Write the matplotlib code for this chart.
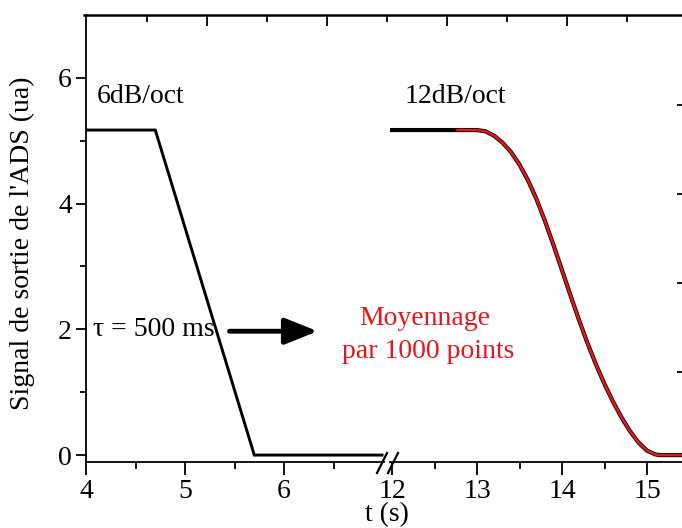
import matplotlib
matplotlib.use("Agg")
import matplotlib.pyplot as plt
from matplotlib.lines import Line2D
import numpy as np

# 6 dB/oct record (left segment)
t_6db = [4.0, 4.70, 5.70, 6.99]
s_6db = [5.17, 5.17, 0.0, 0.0]

# 12 dB/oct record (right segment)
t_12db = [12.0, 12.5, 12.77, 13.0, 13.1, 13.2, 13.3, 13.4, 13.5, 13.6, 13.7, 13.8,
          13.9, 14.0, 14.1, 14.2, 14.3, 14.4, 14.5, 14.6, 14.7, 14.8, 14.9,
          15.0, 15.1, 15.15, 15.5, 16.2]
s_12db = [5.17, 5.17, 5.17, 5.17, 5.15, 5.08, 4.97, 4.82, 4.62, 4.37, 4.07, 3.72,
          3.34, 2.94, 2.54, 2.15, 1.78, 1.44, 1.13, 0.85, 0.60, 0.38, 0.20,
          0.07, 0.01, 0.0, 0.0, 0.0]
red_start = 12.77  # averaged (1000 points) curve starts here

left_ticks = [4, 5, 6]
right_ticks = [12, 13, 14, 15]
y_ticks = [0, 2, 4, 6]

RED = "#e8161b"
FONT = "Liberation Serif"
FS = 20
plt.rcParams["font.family"] = [FONT, "DejaVu Serif"]

W, H = 682, 528
fig = plt.figure(figsize=(W / 100, H / 100), dpi=100)


def fx(px):
    return px / W


def fy(py):
    return 1 - py / H


bot, top = fy(462), fy(15)
ax1 = fig.add_axes([fx(86), bot, fx(384) - fx(86), top - bot])
ax2 = fig.add_axes([fx(390), bot, fx(700) - fx(390), top - bot])
ovl = fig.add_axes([fx(84), bot, fx(683) - fx(84), top - bot])

ax1.set_xlim(4, 4 + (384 - 86) / 99)
ax2.set_xlim(12 - (392 - 390) / 85, 12 + (700 - 392) / 85)
for a in (ax1, ax2):
    a.set_ylim(-0.11, 7.0)
    a.patch.set_visible(False)
    a.spines["top"].set_visible(False)
    for s in a.spines.values():
        s.set_linewidth(1.3)

ax1.spines["right"].set_visible(False)
ax2.spines["left"].set_visible(False)
ax2.spines["right"].set_visible(False)

ax1.plot(t_6db, s_6db, color="black", lw=2.1, solid_joinstyle="miter")
t12 = np.array(t_12db)
s12 = np.array(s_12db)
ax2.plot(t12, s12, color="black", lw=3.0)
m = t12 >= red_start
ax2.plot(t12[m], s12[m], color=RED, lw=1.8)

tick_kw = dict(direction="out", width=1.3, labelsize=FS, colors="black")
ax1.set_xticks(left_ticks)
ax1.set_xticks([4.5, 5.5, 6.5], minor=True)
ax1.set_yticks(y_ticks)
ax1.set_yticks([1, 3, 5], minor=True)
ax1.tick_params(which="major", length=7, pad=3, **tick_kw)
ax1.tick_params(which="minor", length=4, direction="out", width=1.3)
ax1.tick_params(axis="x", which="major", length=9, pad=3)
ax1.tick_params(axis="x", which="minor", length=5)

ax2.set_xticks(right_ticks)
ax2.set_xticks([12.5, 13.5, 14.5, 15.5], minor=True)
ax2.set_yticks([])
ax2.tick_params(axis="x", which="major", length=9, pad=3, **tick_kw)
ax2.tick_params(axis="x", which="minor", length=5, direction="out", width=1.3)

# overlay frame: top axis ticks and right axis ticks
ovl.patch.set_visible(False)
for k in ("left", "bottom", "right"):
    ovl.spines[k].set_visible(False)
ovl.spines["top"].set_linewidth(1.8)
ovl.set_xlim(-0.025, 1 + (683 - 207) / 120)
ovl.set_ylim(1 - 90 / 89, 1 + 357 / 89)
ovl.xaxis.tick_top()
ovl.yaxis.tick_right()
ovl.set_xticks([1, 2, 3, 4])
ovl.set_xticks([0.5, 1.5, 2.5, 3.5, 4.5], minor=True)
ovl.set_yticks([1, 2, 3, 4])
ovl.tick_params(axis="x", which="major", direction="in", length=8, width=1.3,
                labeltop=False, labelbottom=False)
ovl.tick_params(axis="x", which="minor", direction="in", length=5, width=1.3)
ovl.tick_params(axis="y", direction="in", length=4, width=1.3,
                labelright=False, labelleft=False)

for lab in ax1.get_xticklabels() + ax1.get_yticklabels() + ax2.get_xticklabels():
    lab.set_fontfamily(FONT)

# axis break marks
for x0 in (377, 388):
    fig.add_artist(Line2D([fx(x0), fx(x0 + 10)], [fy(473), fy(453)],
                          color="black", lw=1.6))

ax1.text(4.11, 5.70, "6dB/oct", fontsize=FS, ha="left", va="center")
ax2.text(12.15, 5.70, "12dB/oct", fontsize=FS, ha="left", va="center")
ax1.text(4.07, 1.99, "τ = 500 ms", fontsize=FS, ha="left", va="center")
ax1.annotate("", xy=(6.34, 1.97), xytext=(5.45, 1.97),
             arrowprops=dict(arrowstyle="-|>,head_length=1.0,head_width=0.4",
                             lw=3.5, color="black", mutation_scale=20,
                             shrinkA=0, shrinkB=0),
             annotation_clip=False)
ax2.text(12.39, 2.18, "Moyennage", fontsize=FS, color=RED, ha="center", va="center")
ax2.text(12.42, 1.64, "par 1000 points", fontsize=FS, color=RED, ha="center", va="center")

fig.text(fx(387), fy(527), "t (s)", fontsize=FS, ha="center", va="bottom")
fig.text(fx(22), fy(243), "Signal de sortie de l'ADS (ua)", fontsize=FS,
         rotation=90, ha="center", va="center")

fig.savefig("out.png", dpi=100)
